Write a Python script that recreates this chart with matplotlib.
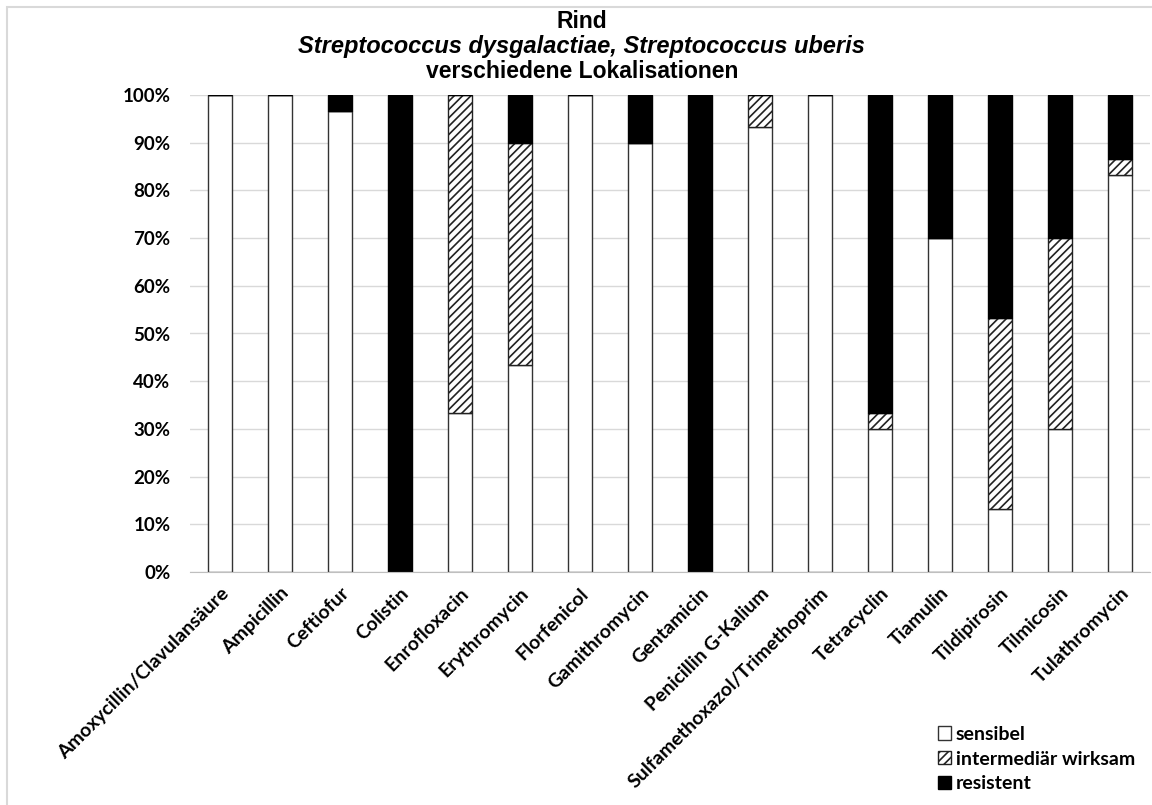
import matplotlib
matplotlib.use("Agg")
import matplotlib.pyplot as plt
import matplotlib.patches as mpatches
import numpy as np

# values in percent
ANTIBIOTICS = ["Amoxycillin/Clavulansäure", "Ampicillin", "Ceftiofur", "Colistin",
               "Enrofloxacin", "Erythromycin", "Florfenicol", "Gamithromycin",
               "Gentamicin", "Penicillin G-Kalium", "Sulfamethoxazol/Trimethoprim",
               "Tetracyclin", "Tiamulin", "Tildipirosin", "Tilmicosin", "Tulathromycin"]
SENSIBEL = [100, 100, 96.7, 0, 33.3, 43.3, 100, 90, 0, 93.3, 100, 30, 70, 13.3, 30, 83.3]
INTERMEDIAER = [0, 0, 0, 0, 66.7, 46.7, 0, 0, 0, 6.7, 0, 3.3, 0, 40, 40, 3.3]
RESISTENT = [0, 0, 3.3, 100, 0, 10, 0, 10, 100, 0, 0, 66.7, 30, 46.7, 30, 13.3]
Y_TICKS = [0, 10, 20, 30, 40, 50, 60, 70, 80, 90, 100]

TICK_FONT = "Lato"
TITLE_FONT = "Liberation Sans"

fig = plt.figure(figsize=(11.52, 8.05), dpi=100)
ax = fig.add_axes([190/1152, 1-572/805, 960/1152, 477/805])

x = np.arange(len(ANTIBIOTICS))
sens = np.array(SENSIBEL)
inter = np.array(INTERMEDIAER)
res = np.array(RESISTENT)

plt.rcParams['hatch.linewidth'] = 1.2
ax.bar(x, sens, width=0.4, color="white", edgecolor="#333333", linewidth=1.0,
       label="sensibel", zorder=3)
ax.bar(x, inter, width=0.4, bottom=sens, color="white", edgecolor="#222222",
       hatch="////", linewidth=1.0, label="intermediär wirksam", zorder=3)
ax.bar(x, res, width=0.4, bottom=sens + inter, color="black", edgecolor="black",
       linewidth=1.0, label="resistent", zorder=3)

ax.set_xlim(-0.5, len(ANTIBIOTICS) - 0.5)
ax.set_ylim(0, 100)
ax.set_yticks(Y_TICKS)
ax.set_yticklabels([str(v) + "%" for v in Y_TICKS], fontsize=13.5,
                   fontweight="bold", family=TICK_FONT)
ax.set_xticks(x)
ax.set_xticklabels(ANTIBIOTICS, rotation=45, ha="right", rotation_mode="anchor",
                   fontsize=14, fontweight="bold", family=TICK_FONT)
ax.tick_params(axis="both", length=0)
ax.tick_params(axis="y", pad=14)
ax.tick_params(axis="x", pad=9)
ax.grid(axis="y", color="#d9d9d9", linewidth=1.0, zorder=0)
for side in ["top", "right", "left"]:
    ax.spines[side].set_visible(False)
ax.spines["bottom"].set_color("#bfbfbf")
ax.spines["bottom"].set_zorder(4)

fig.text(0.505, 1-21/805, "Rind", ha="center", va="center", fontsize=16.5,
         fontweight="bold", family=TITLE_FONT)
fig.text(0.505, 1-47/805, "Streptococcus dysgalactiae, Streptococcus uberis",
         ha="center", va="center", fontsize=17, fontweight="bold",
         fontstyle="italic", family=TITLE_FONT)
fig.text(0.505, 1-72/805, "verschiedene Lokalisationen", ha="center", va="center",
         fontsize=16.5, fontweight="bold", family=TITLE_FONT)

# light frame round the chart
fig.patches.append(mpatches.Rectangle((7/1152, -0.02), 1.05, 1-7/805 + 0.02,
                                      transform=fig.transFigure, fill=False,
                                      edgecolor="#d9d9d9", linewidth=1.5))

handles = [mpatches.Patch(facecolor="white", edgecolor="#333333", label="sensibel"),
           mpatches.Patch(facecolor="white", edgecolor="#222222", hatch="////",
                          label="intermediär wirksam"),
           mpatches.Patch(facecolor="black", edgecolor="black", label="resistent")]
fig.legend(handles=handles, loc="upper left", bbox_to_anchor=(928/1152, 1-716/805),
           frameon=False, borderpad=0, handlelength=0.68, handleheight=0.68,
           handletextpad=0.25, labelspacing=0.4,
           prop={"family": TICK_FONT, "weight": "bold", "size": 14})

fig.savefig("out.png", dpi=100)
